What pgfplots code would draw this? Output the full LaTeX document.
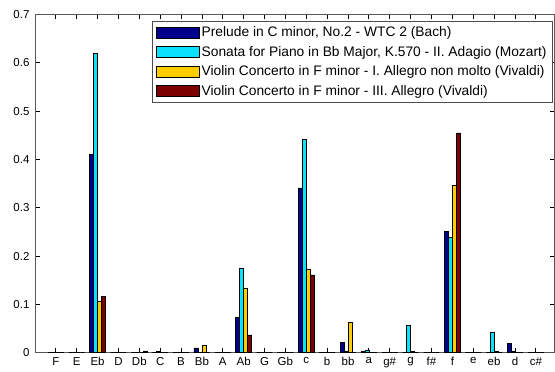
\documentclass[border=0pt]{standalone}
\usepackage{pgfplots}
\pgfplotsset{compat=1.18}
\usepackage{fontspec}
\setmainfont{Liberation Sans}
\definecolor{cBach}{RGB}{0,0,140}
\definecolor{cMoz}{RGB}{10,225,250}
\definecolor{cViv1}{RGB}{255,205,0}
\definecolor{cViv3}{RGB}{125,0,0}
\begin{document}
\begin{tikzpicture}
\begin{axis}[
  clip=false,
  scale only axis,
  width=520pt, height=338.5pt,
  xmin=-1, xmax=23.9,
  ymin=0, ymax=0.7,
  ytick={0,0.1,...,0.7},
  xtick={0,...,23},
  xticklabels={F,E,Eb,D,Db,C,B,Bb,A,Ab,G,Gb,c,b,bb,a,g\#,g,f\#,f,e,eb,d,c\#},
  xtick pos=both, ytick pos=both,
  xtick align=inside, ytick align=inside,
  tickwidth=5pt,
  major tick style={draw=black, line width=0.8pt},
  axis line style={black!65, line width=0.7pt},
  ticklabel style={font=\fontsize{11.5}{13}\selectfont},
  /pgf/number format/assume math mode=true,
  yticklabel style={/pgf/number format/fixed, xshift=-2pt},
  xticklabel style={yshift=-1pt},
  legend style={at={(0.9967,0.981)}, anchor=north east, draw=black!70, line width=0.6pt,
    font=\fontsize{13.8}{15}\selectfont, row sep=4pt, inner xsep=4pt, inner ysep=3.5pt,
    cells={anchor=west}},
  legend image code/.code={\draw[#1, draw=black, line width=0.6pt] (0pt,-5.5pt) rectangle (43pt,5.5pt);},
]
\addplot[ybar, bar width=0.19, draw=black, line width=0.6pt, fill=cBach, bar shift=-0.285] coordinates {(0,0)(1,0)(2,0.411)(3,0)(4,0)(5,0)(6,0)(7,0.01)(8,0)(9,0.073)(10,0)(11,0)(12,0.341)(13,0)(14,0.021)(15,0.002)(16,0)(17,0)(18,0)(19,0.251)(20,0)(21,0)(22,0.019)(23,0)};
\addplot[ybar, bar width=0.19, draw=black, line width=0.6pt, fill=cMoz, bar shift=-0.095] coordinates {(0,0)(1,0)(2,0.620)(3,0)(4,0)(5,0.003)(6,0)(7,0)(8,0)(9,0.175)(10,0)(11,0)(12,0.442)(13,0)(14,0.004)(15,0.005)(16,0)(17,0.057)(18,0)(19,0.239)(20,0)(21,0.042)(22,0.004)(23,0)};
\addplot[ybar, bar width=0.19, draw=black, line width=0.6pt, fill=cViv1, bar shift=0.095] coordinates {(0,0)(1,0)(2,0.106)(3,0)(4,0)(5,0)(6,0)(7,0.016)(8,0)(9,0.134)(10,0)(11,0)(12,0.172)(13,0)(14,0.064)(15,0)(16,0)(17,0.003)(18,0)(19,0.346)(20,0)(21,0.002)(22,0)(23,0)};
\addplot[ybar, bar width=0.19, draw=black, line width=0.6pt, fill=cViv3, bar shift=0.285] coordinates {(0,0)(1,0)(2,0.117)(3,0)(4,0.004)(5,0)(6,0)(7,0)(8,0)(9,0.037)(10,0)(11,0)(12,0.161)(13,0)(14,0)(15,0)(16,0)(17,0)(18,0)(19,0.455)(20,0)(21,0)(22,0)(23,0)};
\legend{Prelude in C minor{,} No.2 - WTC 2 (Bach),Sonata for Piano in Bb Major{,} K.570 - II. Adagio (Mozart),Violin Concerto in F minor - I. Allegro non molto (Vivaldi),Violin Concerto in F minor - III. Allegro (Vivaldi)}
\end{axis}
\path (current axis.south west) ++(-35pt,-19pt) rectangle ([shift={(0pt,14.5pt)}]current axis.north east);
\end{tikzpicture}
\end{document}
